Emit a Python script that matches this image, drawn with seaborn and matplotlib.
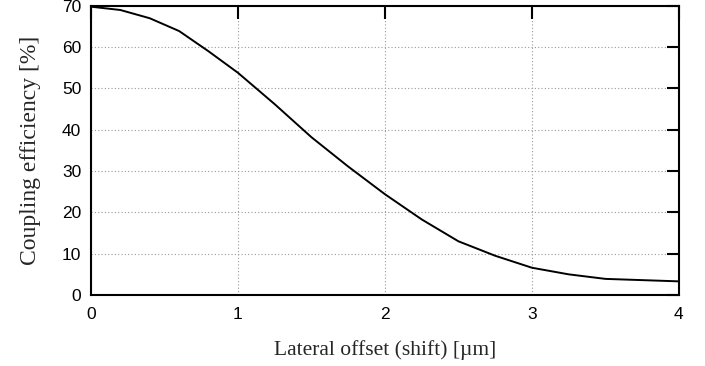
import numpy as np
import pandas as pd
import matplotlib
matplotlib.use("Agg")
import matplotlib.pyplot as plt
import seaborn as sns

# values
offset_um = [0.0, 0.2, 0.4, 0.6, 0.8, 1.0, 1.25, 1.5, 1.75, 2.0,
             2.25, 2.5, 2.75, 3.0, 3.25, 3.5, 3.75, 4.0]
efficiency_pct = [69.8, 69.0, 67.0, 63.9, 59.0, 53.8, 46.2, 38.2, 31.1, 24.4,
                  18.3, 13.0, 9.5, 6.6, 5.0, 3.9, 3.6, 3.3]
x_ticks = [0, 1, 2, 3, 4]
y_ticks = [0, 10, 20, 30, 40, 50, 60, 70]

df = pd.DataFrame({"offset": offset_um, "eff": efficiency_pct})

sns.set_style("white")
plt.rcParams["font.family"] = ["Liberation Sans", "DejaVu Sans"]

fig = plt.figure(figsize=(7.05, 3.66), dpi=100)
ax = fig.add_axes([0.129, 0.194, 0.834, 0.790])

sns.lineplot(data=df, x="offset", y="eff", color="black", linewidth=1.4, ax=ax)

ax.set_xlim(0, 4)
ax.set_ylim(0, 70)
ax.set_xticks(x_ticks)
ax.set_yticks(y_ticks)
ax.grid(True, color="#999999", linestyle=(0, (1, 2)), linewidth=0.8)

ax.tick_params(direction="in", length=9, width=1.5, top=True, right=True,
               labelsize=12.5, colors="black")
ax.tick_params(axis="x", pad=9)
ax.tick_params(axis="y", pad=7)
for s in ax.spines.values():
    s.set_visible(True)
    s.set_color("black")
    s.set_linewidth(1.5)

serif = ["Liberation Serif", "DejaVu Serif"]
ax.set_xlabel("Lateral offset (shift) [µm]", family=serif, fontsize=15.5, labelpad=13)
ax.set_ylabel("Coupling efficiency [%]", family=serif, fontsize=17, labelpad=15)

fig.savefig("out.png", dpi=100)
